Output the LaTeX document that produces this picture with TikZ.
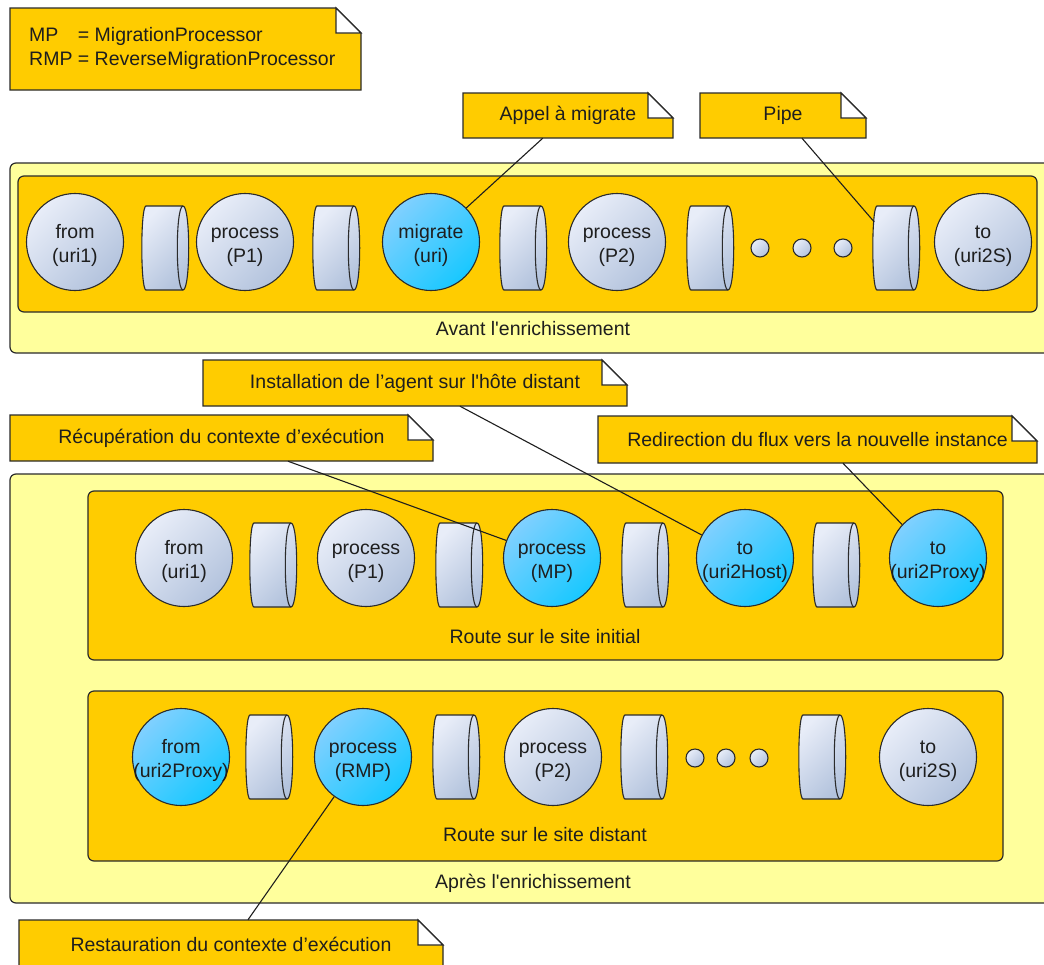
\documentclass[tikz,border=0pt]{standalone}
\usepackage{fontspec}
\setmainfont{Liberation Sans}[Ligatures=TeXOff]
\usetikzlibrary{calc}

\definecolor{amber}{HTML}{FFCC00}
\definecolor{paleyellow}{HTML}{FFFF9C}
\definecolor{edge}{HTML}{2B2B2B}
\definecolor{steelhi}{HTML}{E8EDF8}
\definecolor{steello}{HTML}{B3C3DD}
\definecolor{skyhi}{HTML}{80D0FF}
\definecolor{skylo}{HTML}{18C8FF}
\definecolor{ink}{HTML}{1E1E1E}

\tikzset{
  frame/.style={draw=edge, line width=1.2pt, rounded corners=6pt},
  outerframe/.style={frame, fill=paleyellow},
  innerframe/.style={frame, fill=amber},
  endpoint/.style={circle, draw=edge, line width=1.1pt, minimum size=97pt, inner sep=0pt,
    top color=steelhi, bottom color=steello, shading angle=45},
  active/.style={endpoint, top color=skyhi, bottom color=skylo, shading angle=45},
  pipeslot/.style={rectangle, minimum width=46pt, minimum height=84pt, inner sep=0pt},
  pipebody/.style={draw=edge, line width=1.1pt, top color=steelhi, bottom color=steello, shading angle=45},
  dotnode/.style={circle, draw=edge, line width=1.1pt, minimum size=18pt, inner sep=0pt,
    top color=steelhi, bottom color=steello, shading angle=45},
  notebody/.style={draw=edge, line width=1.2pt, fill=amber, line join=miter},
  notefold/.style={draw=edge, line width=1.2pt, fill=white, line join=miter},
  notetext/.style={rectangle, inner sep=0pt},
  link/.style={draw=ink, line width=1.1pt},
}

% two centred lines inside an endpoint; the box is given no size so that
% every circle keeps the same diameter, and sits a little below the centre
\newcommand\pair[2]{\makebox[0pt]{\smash{\raisebox{-9pt}{\begin{tabular}{@{}c@{}}#1\\#2\end{tabular}}}}}

% a horizontal pipe (cylinder seen from the side): name, centre x, centre y
\newcommand\pipeat[3]{%
  \path[pipebody] ({#2-19},{#3-42}) -- ({#2+18},{#3-42})
    .. controls ({#2+25.6},{#3-42}) and ({#2+25.6},{#3+42}) .. ({#2+18},{#3+42})
    -- ({#2-19},{#3+42})
    .. controls ({#2-24.6},{#3+42}) and ({#2-24.6},{#3-42}) .. ({#2-19},{#3-42}) -- cycle;
  \draw[draw=edge, line width=1.1pt] ({#2+18},{#3-42})
    .. controls ({#2+10.4},{#3-42}) and ({#2+10.4},{#3+42}) .. ({#2+18},{#3+42});
  \node[pipeslot] (#1) at (#2,#3) {};
}

% a note with a folded corner: name, x1, y1, x2, y2, text
\newcommand\noteat[6]{%
  \path[notebody] (#2,#3) -- ({#4-25},#3) -- (#4,{#3+25}) -- (#4,#5) -- (#2,#5) -- cycle;
  \path[notefold] ({#4-25},#3) -- ({#4-25},{#3+25}) -- (#4,{#3+25}) -- cycle;
  \node[notetext, minimum width={#4-#2}, minimum height={#5-#3}] (#1)
    at ({(#2+#4)/2},{(#3+#5)/2}) {#6};
}

\begin{document}
\begin{tikzpicture}[x=1pt, y=-1pt, font=\fontsize{19.5}{24}\selectfont, text=ink]
\useasboundingbox (0,0) rectangle (1044,964);
\fill[white] (0,0) rectangle (1044,964);

% legend
\noteat{legend}{10}{8}{361}{90}{}
\node[anchor=west, inner sep=0pt] (legendtext) at (29,49)
  {\begin{tabular}{@{}l@{ }l@{}}MP & = MigrationProcessor\\RMP & = ReverseMigrationProcessor\end{tabular}};

% ---------- before enrichment ----------
\noteat{appel}{463}{93}{673}{138}{Appel à migrate}
\noteat{pipenote}{700}{93}{866}{138}{Pipe}

\path[outerframe] (10,163) rectangle (1070,353);
\path[innerframe] (18,176) rectangle (1037,312);
\node (lblavant) at (533,329) {Avant l'enrichissement};

\node[endpoint] (a1) at (75,242) {\pair{from}{(uri1)}};
\pipeat{a2}{165}{248}
\node[endpoint] (a3) at (245,242) {\pair{process}{(P1)}};
\pipeat{a4}{336}{248}
\node[active] (a5) at (431,242) {\pair{migrate}{(uri)}};
\pipeat{a6}{523}{248}
\node[endpoint] (a7) at (617,242) {\pair{process}{(P2)}};
\pipeat{a8}{710}{248}
\node[dotnode] (ad1) at (760,248) {};
\node[dotnode] (ad2) at (802,248) {};
\node[dotnode] (ad3) at (843,248) {};
\pipeat{a9}{896}{248}
\node[endpoint] (a10) at (983,242) {\pair{to}{(uri2S)}};

% ---------- after enrichment ----------
\noteat{install}{203}{360}{627}{406}{Installation de l’agent sur l'hôte distant}
\noteat{recup}{10}{415}{433}{461}{Récupération du contexte d’exécution}
\noteat{redir}{598}{416}{1037}{463}{Redirection du flux vers la nouvelle instance}

\path[outerframe] (10,474) rectangle (1070,903);
\node (lblapres) at (533,883) {Après l'enrichissement};

% route on the initial site
\path[innerframe] (88,491) rectangle (1003,660);
\node (lblinit) at (545,637) {Route sur le site initial};
\node[endpoint] (b1) at (184,558) {\pair{from}{(uri1)}};
\pipeat{b2}{273}{565}
\node[endpoint] (b3) at (366,558) {\pair{process}{(P1)}};
\pipeat{b4}{459}{565}
\node[active] (b5) at (552,558) {\pair{process}{(MP)}};
\pipeat{b6}{645}{565}
\node[active] (b7) at (745,558) {\pair{to}{(uri2Host)}};
\pipeat{b8}{836}{565}
\node[active] (b9) at (938,558) {\pair{to}{(uri2Proxy)}};

% route on the remote site
\path[innerframe] (88,691) rectangle (1003,861);
\node (lbldist) at (545,835) {Route sur le site distant};
\node[active] (c1) at (181,757) {\pair{from}{(uri2Proxy)}};
\pipeat{c2}{269}{757}
\node[active] (c3) at (363,757) {\pair{process}{(RMP)}};
\pipeat{c4}{456}{757}
\node[endpoint] (c5) at (553,757) {\pair{process}{(P2)}};
\pipeat{c6}{644}{757}
\node[dotnode] (cd1) at (695,758) {};
\node[dotnode] (cd2) at (726,758) {};
\node[dotnode] (cd3) at (759,758) {};
\pipeat{c7}{822}{757}
\node[endpoint] (c8) at (928,757) {\pair{to}{(uri2S)}};

\noteat{restore}{19}{920}{443}{968}{Restauration du contexte d’exécution}

% ---------- note links ----------
\draw[link] ($(appel.south west)!0.38!(appel.south east)$) -- (a5.44);
\draw[link] ($(pipenote.south west)!0.614!(pipenote.south east)$) -- ($(a9.west)+(1.5,-26)$);
\draw[link] ($(recup.south west)!0.657!(recup.south east)$) -- (b5.159);
\draw[link] ($(install.south west)!0.606!(install.south east)$) -- (b7.152);
\draw[link] ($(redir.south west)!0.558!(redir.south east)$) -- (b9.137);
\draw[link] ($(restore.north west)!0.54!(restore.north east)$) -- (c3.234);
\end{tikzpicture}
\end{document}
